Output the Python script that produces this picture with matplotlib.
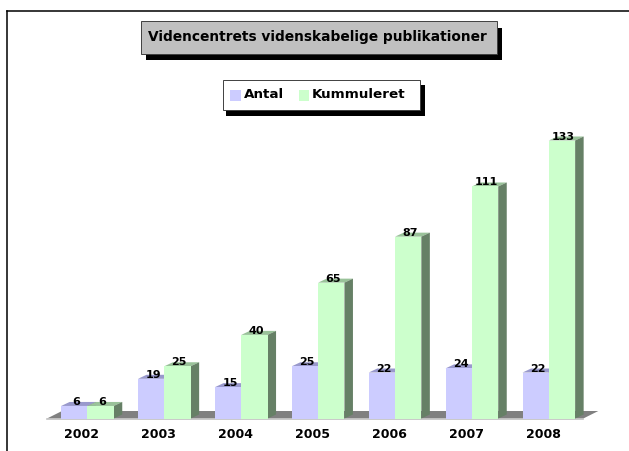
import numpy as np
import matplotlib
matplotlib.use('Agg')
import matplotlib.pyplot as plt
from matplotlib.patches import Polygon, Rectangle

# Data
years = ['2002', '2003', '2004', '2005', '2006', '2007', '2008']
antal = [6, 19, 15, 25, 22, 24, 22]
kummuleret = [6, 25, 40, 65, 87, 111, 133]

title = 'Videncentrets videnskabelige publikationer'

W, H = 629, 452
fig = plt.figure(figsize=(W / 100, H / 100), dpi=100)

# Plot area, placed so that the year groups and the baseline land right
left, right, base, top = 49.0, 587.3, 419.5, 141.5
ax = fig.add_axes([left / W, (H - base) / H, (right - left) / W, (base - top) / H])
ax.set_xlim(-0.5, 6.5)
ax.set_ylim(0, 133)
ax.axis('off')

# Pixel sizes converted to data units
px_x = 7 / (right - left)
px_y = 133 / (base - top)
bar_w = 26.3 * px_x
dx, dy = 8.5 * px_x, 4 * px_y
x = np.arange(len(years))


def box3d(x0, height, face, top_col, side_col, z):
    ax.bar(x0, height, width=bar_w, align='edge', color=face, zorder=z + 1, clip_on=False)
    ax.add_patch(Polygon([(x0, height), (x0 + dx, height + dy), (x0 + bar_w + dx, height + dy),
                          (x0 + bar_w, height)], color=top_col, lw=0, zorder=z, clip_on=False))
    ax.add_patch(Polygon([(x0 + bar_w, 0), (x0 + bar_w + dx, dy), (x0 + bar_w + dx, height + dy),
                          (x0 + bar_w, height)], color=side_col, lw=0, zorder=z, clip_on=False))


# Floor
floor_l = x[0] - 0.5 - 2 * px_x
floor_r = x[-1] + 0.5 - 4 * px_x
floor_dx, floor_dy = 15 * px_x, 7.5 * px_y
ax.add_patch(Polygon([(floor_l, 0), (floor_l + floor_dx, floor_dy), (floor_r + floor_dx, floor_dy),
                      (floor_r, 0)], color='#808080', lw=0, zorder=1, clip_on=False))
ax.plot([floor_l, floor_r], [-0.4, -0.4], color='#c0c0c0', lw=1.2, zorder=2, clip_on=False)

# Antal sits behind Kummuleret, so its side face is hidden
for i in range(len(years)):
    box3d(x[i] - bar_w, antal[i], '#ccccff', '#9999cc', '#666680', 3)
    box3d(x[i], kummuleret[i], '#ccffcc', '#99c299', '#668066', 5)

label_font = dict(family='DejaVu Sans', fontweight='bold', color='black', zorder=10)
for i in range(len(years)):
    ax.annotate(str(antal[i]), (x[i] - bar_w / 2, antal[i]), xytext=(2, 5), textcoords='offset pixels',
                ha='center', va='center', fontsize=8, annotation_clip=False, **label_font)
    ax.annotate(str(kummuleret[i]), (x[i] + bar_w / 2, kummuleret[i]), xytext=(1.5, 5),
                textcoords='offset pixels', ha='center', va='center', fontsize=8,
                annotation_clip=False, **label_font)
    ax.annotate(years[i], (x[i], 0), xytext=(-5.5, -15.5), textcoords='offset pixels',
                ha='center', va='center', fontsize=9, annotation_clip=False, **label_font)


def rect(x0, y0, x1, y1, **kw):
    # pixel box, y measured from the top of the picture
    fig.add_artist(Rectangle((x0 / W, 1 - y1 / H), (x1 - x0) / W, (y1 - y0) / H,
                             transform=fig.transFigure, **kw))


def line(x0, y0, x1, y1):
    fig.add_artist(plt.Line2D([x0 / W, x1 / W], [1 - y0 / H, 1 - y1 / H], color='black', lw=1.1,
                              transform=fig.transFigure))


# Chart frame, open at the right and bottom
line(7, 11.5, W, 11.5)
line(7, 11.5, 7, H)

# Title box
rect(146, 29, 502, 61, facecolor='black', edgecolor='none')
rect(140.5, 21.5, 497, 54.5, facecolor='#c0c0c0', edgecolor='#404040', lw=0.7)
fig.text(317.5 / W, 1 - 37 / H, title, ha='center', va='center', family='DejaVu Sans',
         fontweight='bold', fontsize=9.9)

# Legend box
rect(226, 86, 425, 117, facecolor='black', edgecolor='none')
rect(222.5, 80.5, 420, 110.5, facecolor='white', edgecolor='#404040', lw=0.7)
rect(230, 91, 241, 102, facecolor='#ccccff', edgecolor='none')
rect(299, 91, 309, 102, facecolor='#ccffcc', edgecolor='none')
fig.text(244 / W, 1 - 95 / H, 'Antal', ha='left', va='center', family='DejaVu Sans',
         fontweight='bold', fontsize=9.7)
fig.text(312 / W, 1 - 95 / H, 'Kummuleret', ha='left', va='center', family='DejaVu Sans',
         fontweight='bold', fontsize=9.7)

fig.savefig('out.png', dpi=100, facecolor='white')
